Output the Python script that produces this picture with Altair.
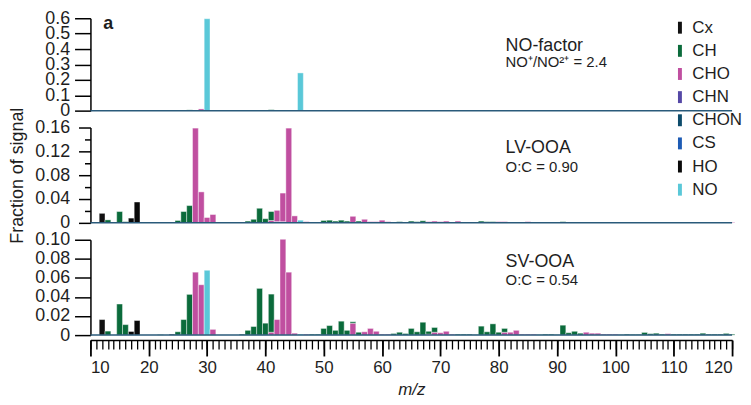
import altair as alt
import pandas as pd

FONT = "Liberation Sans"
families = ["Cx", "CH", "CHO", "CHN", "CHON", "CS", "HO", "NO"]
fam_colors = ["#111111", "#0b6b3b", "#c04fa0", "#5548a6", "#0d4b6b", "#1d5bb4", "#0a0a0a", "#5ac8d8"]
stack_order = {"CHN": 0, "CHON": 1, "CS": 2, "CHO": 3, "CH": 4, "Cx": 5, "HO": 6, "NO": 7}

panel_names = ["NO-factor", "LV-OOA", "SV-OOA"]
panel_notes = ["NO\u207a/NO\u00b2\u207a = 2.4", "O:C = 0.90", "O:C = 0.54"]

# ---- NO-factor ----
no_mz = [12, 15, 27, 28, 29, 30, 31, 39, 41, 43, 44, 46, 47, 55, 57, 60, 67, 69, 77, 91]
no_fam = ["CH", "CH", "CH", "CHO", "CHO", "NO", "CHO", "CH", "CH", "CHO", "CHO", "NO", "CHO",
          "CH", "CHO", "CHO", "CH", "CH", "CH", "CH"]
no_val = [0.002, 0.003, 0.005, 0.003, 0.011, 0.597, 0.002, 0.002, 0.006, 0.003, 0.003, 0.245, 0.002,
          0.004, 0.002, 0.003, 0.002, 0.002, 0.002, 0.002]

# ---- LV-OOA ----
lv_mz = [12, 13, 15, 16, 17, 18, 24, 25, 26, 27, 28, 29, 30, 31, 32, 36, 37, 38, 39, 40,
         41, 41, 42, 42, 43, 43, 44, 45, 46, 47, 48, 49, 50, 51, 52, 53, 54, 55, 56, 57,
         58, 59, 60, 61, 62, 63, 64, 65, 66, 67, 68, 69, 70, 71, 72, 73, 74, 75, 76, 77,
         78, 79, 80, 81, 82, 83, 84, 85, 86, 87, 88, 89, 90, 91, 92, 93, 94, 95, 96, 97,
         98, 99, 100, 101, 102, 103, 104, 105, 106, 107, 108, 109, 110, 111, 112, 113, 114, 115, 116, 117,
         118, 119, 120]
lv_fam = ["Cx", "CH", "CH", "CH", "HO", "HO", "Cx", "CH", "CH", "CH", "CHO", "CHO", "CHO", "CHO", "CHO", "CH", "CH", "CH", "CH", "CH",
          "CHO", "CH", "CHN", "CHO", "CHN", "CHO", "CHO", "CHO", "NO", "CHO", "CH", "CH", "CH", "CH", "CH", "CH", "CH", "CHO", "CH", "CHO",
          "CHO", "CHO", "CHO", "CHO", "CH", "CH", "CH", "CH", "CH", "CH", "CHO", "CHO", "CHO", "CHO", "CH", "CHO", "CH", "CH", "CH", "CH",
          "CH", "CH", "CHO", "CHO", "CHO", "CHO", "CHO", "CHO", "CHO", "CHO", "CHO", "CHO", "CHO", "CH", "CH", "CH", "CHO", "CHO", "CHO", "CH",
          "CH", "CHO", "CH", "CH", "CH", "CHO", "CH", "CH", "CH", "CHO", "CH", "CHO", "CH", "CH", "CHO", "CH", "CH", "CH", "CHO", "CH",
          "CH", "CH", "CHO"]
lv_val = [0.016, 0.005, 0.019, 0.002, 0.008, 0.035, 0.001, 0.004, 0.019, 0.029, 0.159, 0.052, 0.009, 0.014, 0.001, 0.001, 0.003, 0.006, 0.0245, 0.007,
          0.004, 0.015, 0.002, 0.019, 0.002, 0.048, 0.159, 0.0117, 0.0045, 0.002, 0.001, 0.001, 0.004, 0.0045, 0.003, 0.0045, 0.003, 0.011, 0.003, 0.006,
          0.002, 0.002, 0.0045, 0.002, 0.001, 0.002, 0.001, 0.003, 0.002, 0.0035, 0.002, 0.003, 0.002, 0.003, 0.001, 0.003, 0.001, 0.001, 0.0015, 0.003,
          0.002, 0.002, 0.002, 0.002, 0.0015, 0.0015, 0.001, 0.002, 0.001, 0.001, 0.001, 0.001, 0.001, 0.002, 0.001, 0.001, 0.001, 0.001, 0.001, 0.001,
          0.001, 0.001, 0.001, 0.001, 0.001, 0.001, 0.001, 0.0015, 0.001, 0.001, 0.001, 0.001, 0.001, 0.001, 0.001, 0.001, 0.001, 0.001, 0.001, 0.001,
          0.001, 0.001, 0.001]

# ---- SV-OOA ----
sv_mz = [12, 13, 15, 16, 17, 18, 22, 24, 25, 26, 27, 28, 29, 30, 31, 36, 37, 38, 39, 40,
         41, 41, 42, 43, 44, 45, 46, 47, 48, 49, 50, 51, 52, 53, 54, 55, 55, 56, 57, 58,
         59, 60, 61, 62, 63, 64, 65, 66, 67, 68, 68, 69, 69, 70, 71, 72, 73, 74, 75, 76,
         77, 78, 79, 80, 81, 81, 82, 83, 84, 85, 86, 87, 88, 89, 90, 91, 92, 93, 94, 95,
         96, 97, 98, 99, 100, 101, 102, 103, 104, 105, 106, 107, 108, 109, 110, 111, 112, 113, 114, 115,
         116, 117, 118, 119, 120]
sv_fam = ["Cx", "CH", "CH", "CH", "HO", "HO", "CH", "Cx", "CH", "CH", "CH", "CHO", "CHO", "NO", "CHO", "CH", "CH", "CH", "CH", "CH",
          "CHO", "CH", "CHO", "CHO", "CHO", "CHO", "NO", "CHO", "CH", "CH", "CH", "CH", "CH", "CH", "CH", "CHO", "CH", "CH", "CHO", "CHO",
          "CHO", "CHO", "CHO", "CH", "CH", "CH", "CH", "CH", "CH", "CHO", "CH", "CHO", "CH", "CHO", "CHO", "CHO", "CH", "CH", "CH", "CH",
          "CH", "CH", "CH", "CH", "CHO", "CH", "CHO", "CHO", "CHO", "CHO", "CHO", "CH", "CH", "CH", "CH", "CH", "CH", "CH", "CH", "CHO",
          "CHO", "CHO", "CHO", "CHO", "CHO", "CH", "CH", "CH", "CH", "CH", "CH", "CH", "CH", "CHO", "CH", "CH", "CH", "CH", "CH", "CH",
          "CH", "CH", "CH", "CH", "CH"]
sv_val = [0.0163, 0.0042, 0.0326, 0.011, 0.0038, 0.0153, 0.0005, 0.001, 0.0035, 0.0163, 0.0427, 0.066, 0.0528, 0.068, 0.006, 0.001, 0.005, 0.009, 0.049, 0.0125,
          0.003, 0.040, 0.0163, 0.1005, 0.066, 0.002, 0.001, 0.001, 0.001, 0.001, 0.007, 0.010, 0.005, 0.0146, 0.005, 0.0125, 0.0015, 0.003, 0.0035, 0.007,
          0.004, 0.001, 0.001, 0.0017, 0.003, 0.0017, 0.007, 0.0035, 0.0135, 0.001, 0.003, 0.003, 0.005, 0.0025, 0.004, 0.001, 0.001, 0.001, 0.001, 0.0005,
          0.0094, 0.0035, 0.0118, 0.003, 0.003, 0.004, 0.003, 0.005, 0.001, 0.001, 0.001, 0.0005, 0.001, 0.001, 0.0005, 0.0104, 0.0025, 0.004, 0.002, 0.003,
          0.002, 0.002, 0.001, 0.001, 0.001, 0.0005, 0.001, 0.0008, 0.0008, 0.0028, 0.0015, 0.002, 0.001, 0.0015, 0.001, 0.001, 0.001, 0.001, 0.001, 0.002,
          0.001, 0.001, 0.001, 0.0018, 0.001]

W = 646
MZ_MIN, MZ_MAX = 10, 120
TXT = "#1e1e1e"

# annotation baselines (px from panel top) for name / note
name_y = [32.5, 26, 27]
note_y = [49, 45, 45.5]
legend_y = 1


def frame(mz, fam, val):
    return pd.DataFrame({"mz": mz, "fam": fam, "val": val,
                         "ord": [stack_order[f] for f in fam]})


legend = alt.Legend(title=None, orient="none", legendX=585, legendY=legend_y,
                    symbolType="M-0.33,-1H0.33V1H-0.33Z", symbolSize=144, symbolStrokeWidth=0,
                    labelFontSize=17, labelFont=FONT, labelColor=TXT, labelOffset=4,
                    rowPadding=5.3, padding=0)


def panel(df, idx, h, ymax, yaxis, yaxis2=None, xaxis=None, xaxis2=None, letter=None):
    xs = alt.Scale(domain=[MZ_MIN, MZ_MAX], nice=False, zero=False, padding=0)
    ys = alt.Scale(domain=[0, ymax], nice=False, zero=True, padding=0)
    bars = alt.Chart(df).transform_stack(
        stack="val", groupby=["mz"], as_=["y0", "y1"], sort=[alt.SortField("ord")]
    ).transform_calculate(
        x0="datum.mz - 0.5", x1="datum.mz + 0.5"
    ).mark_bar(stroke="white", strokeWidth=0.6, strokeOpacity=0.7).encode(
        x=alt.X("x0:Q", scale=xs, axis=xaxis),
        x2="x1:Q",
        y=alt.Y("y0:Q", scale=ys, axis=yaxis),
        y2="y1:Q",
        color=alt.Color("fam:N", scale=alt.Scale(domain=families, range=fam_colors), legend=legend),
    )
    base_df = pd.DataFrame({"lo": [MZ_MIN], "hi": [MZ_MAX], "v": [0]})
    baseline = alt.Chart(base_df).mark_rule(color="#2a5a7a", strokeWidth=1.5).encode(
        x=alt.X("lo:Q", scale=xs, axis=xaxis2),
        x2="hi:Q",
        y=alt.Y("v:Q", scale=ys, axis=yaxis2),
    )
    name = alt.Chart(pd.DataFrame({"t": [panel_names[idx]]})).mark_text(
        align="left", baseline="alphabetic", fontSize=18, font=FONT, color=TXT
    ).encode(text="t:N", x=alt.value(418), y=alt.value(name_y[idx]))
    note = alt.Chart(pd.DataFrame({"t": [panel_notes[idx]]})).mark_text(
        align="left", baseline="alphabetic", fontSize=15, font=FONT, color=TXT
    ).encode(text="t:N", x=alt.value(418), y=alt.value(note_y[idx]))
    layers = [bars, baseline, name, note]
    if letter:
        layers.append(alt.Chart(pd.DataFrame({"t": [letter]})).mark_text(
            align="left", baseline="alphabetic", fontSize=18, font=FONT, fontWeight="bold", color=TXT
        ).encode(text="t:N", x=alt.value(13), y=alt.value(11)))
    return alt.layer(*layers).resolve_axis(x="independent", y="independent").properties(width=W, height=h)


ycommon = dict(orient="left", grid=False, domainColor="black", domainWidth=1.5, tickColor="black",
               tickWidth=1.5, labelFontSize=18, labelFont=FONT, labelColor=TXT, labelOverlap=False)

y1 = alt.Axis(values=[0, 0.1, 0.2, 0.3, 0.4, 0.5, 0.6], format=".1~f", tickSize=16, labelPadding=5,
              title=None, **ycommon)
y2 = alt.Axis(values=[0, 0.04, 0.08, 0.12, 0.16], format=".2~f", tickSize=12, labelPadding=9,
              title="Fraction of signal", titleFontSize=18, titleFont=FONT, titleFontWeight="normal",
              titleColor=TXT, titlePadding=8, **ycommon)
y2m = alt.Axis(values=[0.02, 0.06, 0.10, 0.14], tickSize=6, labels=False, domain=False, title=None,
               orient="left", grid=False, tickColor="black", tickWidth=1.5)
y3 = alt.Axis(values=[0, 0.02, 0.04, 0.06, 0.08, 0.10], tickSize=16, labelPadding=5,
              labelExpr="datum.value == 0 ? '0' : format(datum.value, '.2f')", title=None, **ycommon)

xminor = alt.Axis(orient="bottom", values=list(range(MZ_MIN, MZ_MAX + 1)), tickSize=9, tickWidth=1.3,
                  tickColor="black", labels=False, domain=True, domainColor="black", domainWidth=1.5,
                  offset=5, title=None, grid=False)
xmajor = alt.Axis(orient="bottom", values=list(range(MZ_MIN, MZ_MAX + 1, 10)), tickSize=16, tickWidth=1.8,
                  tickColor="black", labels=True, labelFontSize=17, labelFont=FONT, labelColor=TXT,
                  labelPadding=4, labelOverlap=False, domain=False, offset=5, grid=False,
                  title="m/z", titleFontStyle="italic", titleFontWeight="normal", titleFontSize=17,
                  titleFont=FONT, titleColor=TXT, titlePadding=6)

p1 = panel(frame(no_mz, no_fam, no_val), 0, 93, 0.6, y1, None, None, None, letter="a")
p2 = panel(frame(lv_mz, lv_fam, lv_val), 1, 96, 0.16, y2, y2m, None, None)
p3 = panel(frame(sv_mz, sv_fam, sv_val), 2, 96, 0.10, y3, None, xminor, xmajor)

chart = alt.vconcat(p1, p2, p3, spacing=17, bounds="flush").resolve_scale(
    y="independent", x="shared", color="shared"
).properties(
    padding={"left": 0, "top": 0, "right": 0, "bottom": 0}
).configure(font=FONT).configure_view(stroke=None)

chart.save("out.html", embed_options={"renderer": "svg", "actions": False})
